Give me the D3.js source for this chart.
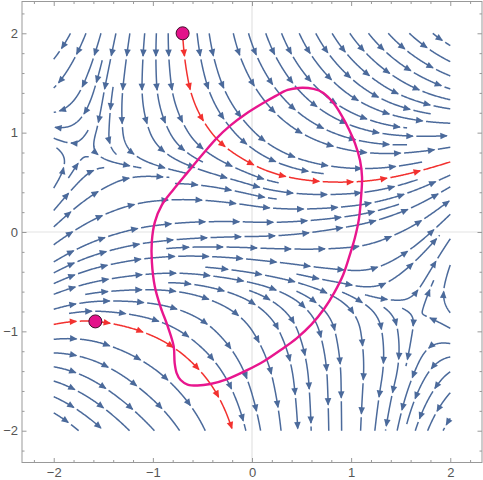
<!DOCTYPE html>
<html><head><meta charset="utf-8">
<script src="https://cdn.jsdelivr.net/npm/d3@7"></script>
<style>body{margin:0;background:#fff}svg{display:block}</style>
</head><body>
<svg id="c" width="483" height="480"></svg>
<script>
// ---- data ----
const gridX = [-2, -1.5, -1, -0.5, 0, 0.5, 1, 1.5, 2];
const gridY = [2, 1.5, 1, 0.5, 0, -0.5, -1, -1.5, -2];
// flow direction (degrees, counter-clockwise from +x) at each grid node, rows follow gridY
const flowAngles = [
  [235, 255, 267, 277, 287, 295, 305, 315, 325],
  [228, 258, 272, 285, 300, 310, 320, 330, 340],
  [165, 265, 293, 306, 315, 330, 343, 355,   2],
  [ 62,  30,   5, 352, 342, 353,   2,  15,  28],
  [ 40,  20,   8,   4,   2,   7,  11,  25,  52],
  [ 25,  10,   3, 352, 348, 345, 352,  40,  80],
  [ 10, 348, 338, 321, 303, 290, 280, 278, 155],
  [342, 328, 320, 309, 288, 275, 270, 255, 225],
  [322, 318, 313, 296, 282, 272, 270, 257, 240]
];
const majorTicks = [-2, -1, 0, 1, 2];
const minorTicks = [-2.2,-2,-1.8,-1.6,-1.4,-1.2,-1,-0.8,-0.6,-0.4,-0.2,0,0.2,0.4,0.6,0.8,1,1.2,1.4,1.6,1.8,2,2.2];
const highlightPoints = [[-0.7, 2.0], [-1.58, -0.9]];
const closedCurve = [
  [0.47,1.45],[0.62,1.44],[0.72,1.40],[0.82,1.30],[0.90,1.18],[0.98,1.03],[1.04,0.89],[1.09,0.72],
  [1.11,0.55],[1.10,0.35],[1.08,0.14],[1.04,-0.05],[0.99,-0.22],[0.92,-0.43],[0.83,-0.61],[0.73,-0.77],
  [0.60,-0.93],[0.45,-1.07],[0.30,-1.18],[0.12,-1.30],[-0.05,-1.39],[-0.25,-1.48],[-0.42,-1.53],
  [-0.55,-1.545],[-0.65,-1.535],[-0.72,-1.49],[-0.76,-1.42],[-0.78,-1.32],[-0.79,-1.15],[-0.85,-0.95],
  [-0.92,-0.76],[-0.98,-0.55],[-1.01,-0.30],[-1.01,-0.09],[-0.98,0.10],[-0.91,0.27],[-0.79,0.43],
  [-0.65,0.60],[-0.50,0.78],[-0.36,0.94],[-0.22,1.07],[-0.06,1.19],[0.10,1.29],[0.24,1.37],[0.36,1.43]
];

// ---- layout ----
const x = d3.scaleLinear().domain([-2.32, 2.32]).range([22, 482]);
const y = d3.scaleLinear().domain([-2.32, 2.32]).range([462.5, 1.5]);
const svg = d3.select('#c');
const BLUE = '#4b6a9b', RED = '#f2312f', MAG = '#e8168e';

// ---- vector field from the grid ----
const U = flowAngles.map(r => r.map(a => Math.cos(a * Math.PI / 180)));
const V = flowAngles.map(r => r.map(a => Math.sin(a * Math.PI / 180)));
const gdx = gridX[1] - gridX[0], gdy = gridY[0] - gridY[1];
const nI = gridX.length - 1, nJ = gridY.length - 1;
function field(px, py) {
  let fx = (px - gridX[0]) / gdx, fy = (gridY[0] - py) / gdy;
  fx = Math.max(0, Math.min(nI, fx)); fy = Math.max(0, Math.min(nJ, fy));
  const i = Math.min(nI - 1, Math.floor(fx)), j = Math.min(nJ - 1, Math.floor(fy));
  const s = fx - i, t = fy - j;
  const w00 = (1 - s) * (1 - t), w10 = s * (1 - t), w01 = (1 - s) * t, w11 = s * t;
  return [w00 * U[j][i] + w10 * U[j][i + 1] + w01 * U[j + 1][i] + w11 * U[j + 1][i + 1],
          w00 * V[j][i] + w10 * V[j][i + 1] + w01 * V[j + 1][i] + w11 * V[j + 1][i + 1]];
}
const XMIN = gridX[0], XMAX = gridX[nI], YMIN = gridY[nJ], YMAX = gridY[0];
const h = 0.008;
function trace(x0, y0, dir, ok, maxSteps) {
  const pts = [[x0, y0]];
  let cx = x0, cy = y0;
  for (let k = 0; k < (maxSteps || 2500); k++) {
    const [u, v] = field(cx, cy); const m = Math.hypot(u, v);
    if (m < 0.02) break;
    const mx = cx + dir * h / 2 * u / m, my = cy + dir * h / 2 * v / m;
    const [u2, v2] = field(mx, my); const m2 = Math.hypot(u2, v2);
    if (m2 < 0.02) break;
    const nx = cx + dir * h * u2 / m2, ny = cy + dir * h * v2 / m2;
    if (nx < XMIN || nx > XMAX || ny < YMIN || ny > YMAX) {
      let tt = 1;
      if (nx < XMIN) tt = Math.min(tt, (XMIN - cx) / (nx - cx));
      if (nx > XMAX) tt = Math.min(tt, (XMAX - cx) / (nx - cx));
      if (ny < YMIN) tt = Math.min(tt, (YMIN - cy) / (ny - cy));
      if (ny > YMAX) tt = Math.min(tt, (YMAX - cy) / (ny - cy));
      pts.push([cx + (nx - cx) * tt, cy + (ny - cy) * tt]);
      break;
    }
    if (ok && !ok(nx, ny)) break;
    pts.push([nx, ny]); cx = nx; cy = ny;
  }
  return pts;
}

// ---- evenly spaced streamlines ----
const dsep = 0.15, dtest = 0.08;
const cell = dsep;
const hash = new Map();
function key(i, j) { return i + ',' + j; }
function addLine(pts) {
  for (const p of pts) {
    const k = key(Math.floor(p[0] / cell), Math.floor(p[1] / cell));
    if (!hash.has(k)) hash.set(k, []);
    hash.get(k).push(p);
  }
}
function clear(px, py, d) {
  const ci = Math.floor(px / cell), cj = Math.floor(py / cell);
  const d2 = d * d;
  for (let a = -1; a <= 1; a++) for (let b = -1; b <= 1; b++) {
    const arr = hash.get(key(ci + a, cj + b));
    if (!arr) continue;
    for (const p of arr) { const ex = p[0] - px, ey = p[1] - py; if (ex * ex + ey * ey < d2) return false; }
  }
  return true;
}
function arcLen(pts) { let L = 0; for (let i = 1; i < pts.length; i++) L += Math.hypot(pts[i][0] - pts[i - 1][0], pts[i][1] - pts[i - 1][1]); return L; }
function makeLine(sx, sy) {
  if (sx < XMIN || sx > XMAX || sy < YMIN || sy > YMAX) return null;
  if (!clear(sx, sy, dsep)) return null;
  const okf = (a, b) => clear(a, b, dtest);
  const back = trace(sx, sy, -1, okf);
  const fwd = trace(sx, sy, 1, okf);
  const pts = back.reverse().concat(fwd.slice(1));
  if (arcLen(pts) < 0.12) return null;
  return pts;
}

const redLines = highlightPoints.map(([px, py]) => {
  const back = trace(px, py, -1, null, 3000);
  const fwd = trace(px, py, 1, null, 3000);
  return back.reverse().concat(fwd.slice(1));
});
redLines.forEach(addLine);

const blueLines = [];
const queue = redLines.slice();
function grow() {
  while (queue.length) {
    const L = queue.shift();
    for (let k = 0; k < L.length - 1; k += 4) {
      const p = L[k], q = L[k + 1];
      let tx = q[0] - p[0], ty = q[1] - p[1]; const tm = Math.hypot(tx, ty) || 1;
      tx /= tm; ty /= tm;
      for (const sgn of [1, -1]) {
        const sx = p[0] - sgn * ty * dsep, sy = p[1] + sgn * tx * dsep;
        const nl = makeLine(sx, sy);
        if (nl) { addLine(nl); blueLines.push(nl); queue.push(nl); }
      }
    }
  }
}
grow();
for (let gy = YMAX; gy >= YMIN; gy -= dsep * 0.5) {
  for (let gx = XMIN; gx <= XMAX; gx += dsep * 0.5) {
    const nl = makeLine(gx, gy);
    if (nl) { addLine(nl); blueLines.push(nl); queue.push(nl); grow(); }
  }
}

// ---- frame, axes lines, ticks ----
const g = svg.append('g');
g.append('line').attr('x1', x(0)).attr('x2', x(0)).attr('y1', y(-2.32)).attr('y2', y(2.32))
  .attr('stroke', '#e3e3e3').attr('stroke-width', 1.2);
g.append('line').attr('y1', y(0)).attr('y2', y(0)).attr('x1', x(-2.32)).attr('x2', x(2.32))
  .attr('stroke', '#e3e3e3').attr('stroke-width', 1.2);

function styleAxis(sel) {
  sel.select('.domain').remove();
  sel.selectAll('line').attr('stroke', '#999');
  sel.selectAll('text').attr('fill', '#555').style('font-family', 'Liberation Sans, Arial, sans-serif').style('font-size', '13px');
}
const fmt = d => (d < 0 ? '\u2212' + Math.abs(d) : '' + d);
[[d3.axisBottom(x), `translate(0,${y(-2.32)})`], [d3.axisTop(x), `translate(0,${y(2.32)})`],
 [d3.axisLeft(y), `translate(${x(-2.32)},0)`], [d3.axisRight(y), `translate(${x(2.32)},0)`]]
.forEach(([ax, tr]) => {
  const minor = svg.append('g').attr('transform', tr)
    .call(ax.tickValues(minorTicks.filter(v => !majorTicks.includes(v))).tickSize(-2.5).tickFormat(''));
  styleAxis(minor);
});
const axB = svg.append('g').attr('transform', `translate(0,${y(-2.32)})`)
  .call(d3.axisBottom(x).tickValues(majorTicks).tickSize(-4.5).tickPadding(5).tickFormat(fmt));
styleAxis(axB);
const axT = svg.append('g').attr('transform', `translate(0,${y(2.32)})`)
  .call(d3.axisTop(x).tickValues(majorTicks).tickSize(-4.5).tickFormat(''));
styleAxis(axT);
const axL = svg.append('g').attr('transform', `translate(${x(-2.32)},0)`)
  .call(d3.axisLeft(y).tickValues(majorTicks).tickSize(-4.5).tickPadding(4).tickFormat(fmt));
styleAxis(axL);
const axR = svg.append('g').attr('transform', `translate(${x(2.32)},0)`)
  .call(d3.axisRight(y).tickValues(majorTicks).tickSize(-4.5).tickFormat(''));
styleAxis(axR);
svg.append('rect').attr('x', x(-2.32)).attr('y', y(2.32)).attr('width', x(2.32) - x(-2.32))
  .attr('height', y(-2.32) - y(2.32)).attr('fill', 'none').attr('stroke', '#999').attr('stroke-width', 1);

// ---- draw streamlines with arrowheads and small gaps ----
const lineGen = d3.line().x(d => d[0]).y(d => d[1]);
function drawStream(layer, ptsData, color, spacing, width) {
  const P = ptsData.map(p => [x(p[0]), y(p[1])]);
  const cum = [0];
  for (let i = 1; i < P.length; i++) cum.push(cum[i - 1] + Math.hypot(P[i][0] - P[i - 1][0], P[i][1] - P[i - 1][1]));
  const total = cum[cum.length - 1];
  if (total < 2) return;
  function at(s) {
    let i = d3.bisectLeft(cum, s); i = Math.max(1, Math.min(P.length - 1, i));
    const a = P[i - 1], b = P[i], seg = cum[i] - cum[i - 1] || 1, t = (s - cum[i - 1]) / seg;
    return [[a[0] + (b[0] - a[0]) * t, a[1] + (b[1] - a[1]) * t], [(b[0] - a[0]) / seg, (b[1] - a[1]) / seg]];
  }
  const tips = [];
  let s0 = Math.min(spacing * 0.7, total * 0.6);
  for (let s = s0; s <= total; s += spacing) tips.push(s);
  const gap = 2.5;
  const pieces = [];
  let start = 0;
  for (const s of tips) { pieces.push([start, s - 1]); start = s + gap; }
  if (start < total) pieces.push([start, total]);
  for (const [a, b] of pieces) {
    if (b - a < 0.8) continue;
    const seg = [at(a)[0]];
    for (let i = 0; i < P.length; i++) if (cum[i] > a && cum[i] < b) seg.push(P[i]);
    seg.push(at(b)[0]);
    layer.append('path').attr('d', lineGen(seg)).attr('fill', 'none').attr('stroke', color)
      .attr('stroke-width', width).attr('stroke-linecap', 'butt').attr('stroke-linejoin', 'round');
  }
  for (const s of tips) {
    const [p, d] = at(s);
    const L = 7.5, Wd = 3.3;
    const bx = p[0] - d[0] * L, by = p[1] - d[1] * L;
    layer.append('path').attr('d', `M${p[0]},${p[1]}L${bx - d[1] * Wd},${by + d[0] * Wd}L${bx + d[1] * Wd},${by - d[0] * Wd}Z`)
      .attr('fill', color);
  }
}
const blueLayer = svg.append('g');
blueLines.forEach(L => drawStream(blueLayer, L, BLUE, 34, 1.5));
const redLayer = svg.append('g');
redLines.forEach(L => drawStream(redLayer, L, RED, 34, 1.5));

svg.append('path').datum(closedCurve)
  .attr('d', d3.line().x(d => x(d[0])).y(d => y(d[1])).curve(d3.curveCatmullRomClosed))
  .attr('fill', 'none').attr('stroke', MAG).attr('stroke-width', 2.4);

svg.selectAll('circle.pt').data(highlightPoints).enter().append('circle')
  .attr('cx', d => x(d[0])).attr('cy', d => y(d[1])).attr('r', 6.5)
  .attr('fill', '#e3128a').attr('stroke', '#40102a').attr('stroke-width', 1);
</script>
</body></html>
